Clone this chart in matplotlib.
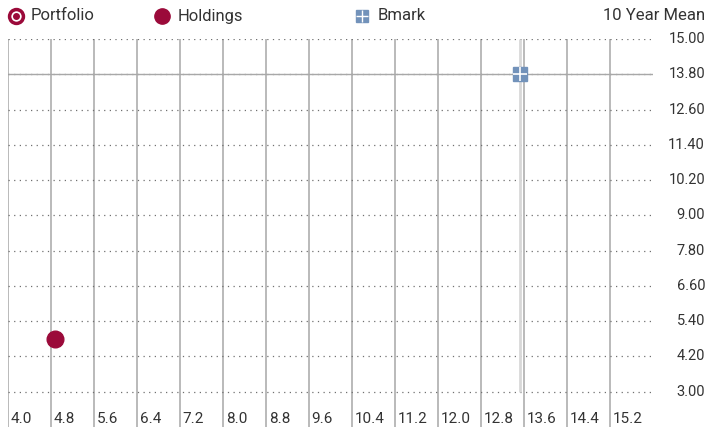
import numpy as np
import matplotlib.pyplot as plt
from matplotlib.transforms import blended_transform_factory

plt.rcParams['font.family'] = ['Roboto', 'DejaVu Sans']

x_ticks = [4.0, 4.8, 5.6, 6.4, 7.2, 8.0, 8.8, 9.6, 10.4, 11.2, 12.0, 12.8, 13.6, 14.4, 15.2]
y_ticks = [3.00, 4.20, 5.40, 6.60, 7.80, 9.00, 10.20, 11.40, 12.60, 13.80, 15.00]
holdings_x = [4.87]
holdings_y = [4.80]
bmark_x = [13.52]
bmark_y = [13.80]

crimson = '#9b0a3a'
blue = '#7292ba'
grid_gray = '#b4b4b4'
text_col = '#333333'

W, H = 708, 429
fig = plt.figure(figsize=(W / 100, H / 100), dpi=100)
ax = fig.add_axes([8 / W, 2 / H, 645 / W, 388 / H])
ax.set_xlim(4.0, 16.0)
ax.set_ylim(1.8, 15.0)
ax.axis('off')

# grid
for xv in x_ticks:
    ax.axvline(xv, color=grid_gray, lw=1.3, zorder=1)
ax.hlines(y_ticks, 4.0, 16.0, colors='#707070', lw=0.9, linestyles=(0, (1, 3.5)), zorder=1)

# benchmark crosshair
ax.hlines(bmark_y, 4.0, 16.0, colors='#a8a8a8', lw=1.0, zorder=2)
ax.vlines(bmark_x, 3.0, 15.0, colors='#d8d8d8', lw=2, zorder=2)

# points
ax.plot(holdings_x, holdings_y, 'o', ms=12, color=crimson, mec=crimson, zorder=5)
ax.plot(bmark_x, bmark_y, 's', ms=10.5, color=blue, mec=blue, zorder=5)
ax.plot(bmark_x, bmark_y, '+', ms=10.5, mew=1.2, color='white', zorder=6)

# tick labels
tx = blended_transform_factory(ax.transData, fig.transFigure)
for xv in x_ticks:
    ax.text(xv + 0.05, 10 / H, f'{xv:.1f}', transform=tx, ha='left', va='center',
            fontsize=11, color=text_col)
ty = blended_transform_factory(fig.transFigure, ax.transData)
for yv in y_ticks:
    fig.text(705 / W, yv, f'{yv:.2f}', transform=ty, ha='right', va='center',
             fontsize=10.5, color=text_col)

# legend
lax = fig.add_axes([0, 0, 1, 1], facecolor='none')
lax.set_xlim(0, W)
lax.set_ylim(H, 0)
lax.axis('off')
lax.plot([16], [16], 'o', ms=10, mfc='white', mec=crimson, mew=2.5)
lax.plot([16], [16], 'o', ms=4, color=crimson)
lax.text(31, 16, 'Portfolio', ha='left', va='center', fontsize=12, color=text_col)
lax.plot([162], [16], 'o', ms=11, color=crimson)
lax.text(178, 16, 'Holdings', ha='left', va='center', fontsize=12, color=text_col)
lax.plot([362], [16], 's', ms=9, color=blue)
lax.plot([362], [16], '+', ms=9, mew=1.0, color='white')
lax.text(378, 16, 'Bmark', ha='left', va='center', fontsize=12, color=text_col)
lax.text(705, 16, '10 Year Mean', ha='right', va='center', fontsize=12, color=text_col)

fig.savefig('out.png', dpi=100)
